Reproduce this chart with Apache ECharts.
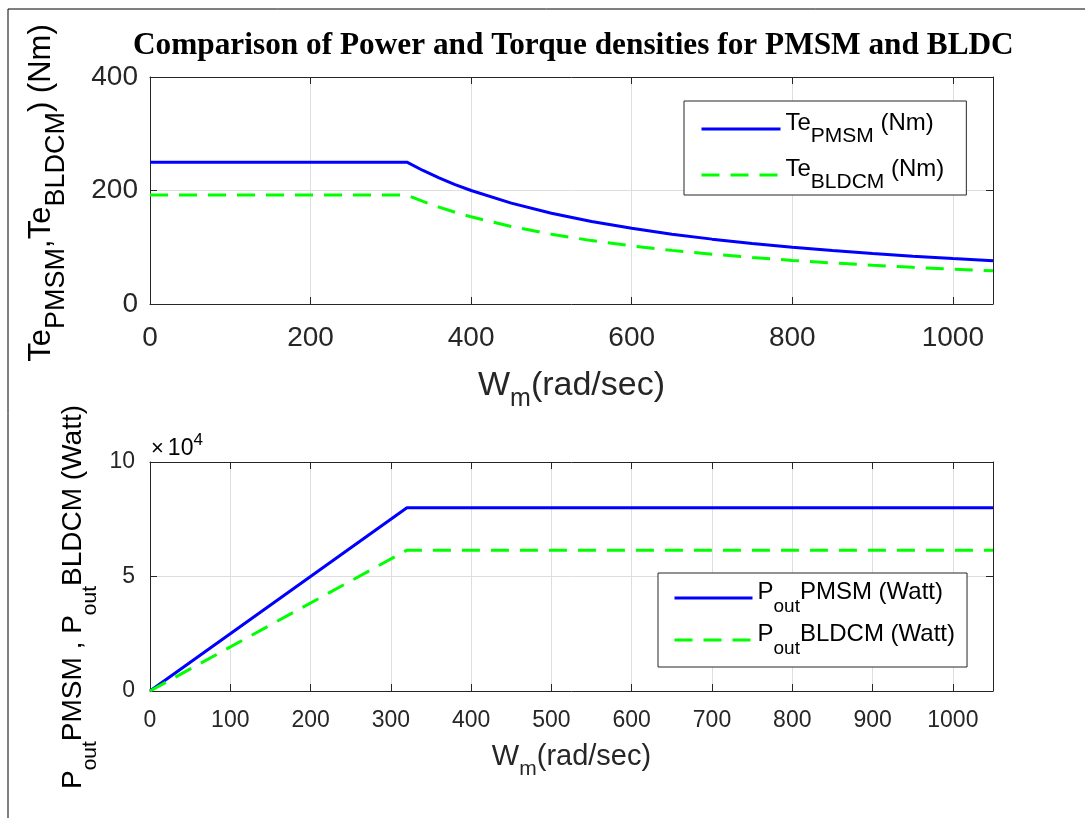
<!DOCTYPE html>
<html>
<head>
<meta charset="utf-8">
<title>Comparison of Power and Torque densities</title>
<script src="https://cdn.jsdelivr.net/npm/echarts@6/dist/echarts.min.js"></script>
<style>
  body { margin: 0; background: #fff; }
  #main { width: 1085px; height: 818px; }
</style>
</head>
<body>
<div id="main"></div>
<script>
// speed (rad/sec) and torque (Nm)
var speedTorque = [0, 100, 200, 300, 320, 340, 360, 380, 400, 450, 500, 550, 600, 650, 700, 750, 800, 850, 900, 950, 1000, 1050];
var tePmsm  = [250, 250, 250, 250, 250, 235.3, 222.2, 210.5, 200, 177.8, 160, 145.5, 133.3, 123.1, 114.3, 106.7, 100, 94.1, 88.9, 84.2, 80, 76.2];
var teBldcm = [192, 192, 192, 192, 192, 180.7, 170.7, 161.7, 153.6, 136.5, 122.9, 111.7, 102.4, 94.5, 87.8, 81.9, 76.8, 72.3, 68.3, 64.7, 61.4, 58.5];

// speed (rad/sec) and output power (Watt)
var speedPower = [0, 320, 1050];
var pPmsm  = [0, 80000, 80000];
var pBldcm = [0, 61500, 61500];

var axisColor = '#262626';
var gridColor = '#dedede';
var font = 'Arial, "Liberation Sans", sans-serif';

function pairs(xs, ys) {
  return xs.map(function (x, i) { return [x, ys[i]]; });
}

// MATLAB style box: labelled bottom/left axes, tick-only top/right axes
function boxAxes(g, xInt, yMax, yInt, fs, xMargin, yMargin, yFmt) {
  var line = { show: true, onZero: false, lineStyle: { color: axisColor, width: 1 } };
  var tick = { show: true, inside: true, length: 7, lineStyle: { color: axisColor } };
  var base = { type: 'value', gridIndex: g, axisLine: line, axisTick: tick };
  var xb = Object.assign({}, base, {
    min: 0, max: 1050, interval: xInt, position: 'bottom',
    axisLabel: { margin: xMargin, fontSize: fs, color: axisColor, fontFamily: font, showMaxLabel: false,
                 formatter: function (v) { return String(v); } },
    splitLine: { show: true, lineStyle: { color: gridColor } }
  });
  var xt = Object.assign({}, base, {
    min: 0, max: 1050, interval: xInt, position: 'top',
    axisLabel: { show: false }, splitLine: { show: false }
  });
  var yl = Object.assign({}, base, {
    min: 0, max: yMax, interval: yInt, position: 'left',
    axisLabel: { margin: yMargin, fontSize: fs, color: axisColor, fontFamily: font, formatter: yFmt },
    splitLine: { show: true, lineStyle: { color: gridColor } }
  });
  var yr = Object.assign({}, base, {
    min: 0, max: yMax, interval: yInt, position: 'right',
    axisLabel: { show: false }, splitLine: { show: false }
  });
  return { x: [xb, xt], y: [yl, yr] };
}

var torqueAx = boxAxes(0, 200, 400, 200, 28, 20, 12, function (v) { return String(v); });
var powerAx = boxAxes(1, 100, 100000, 50000, 23, 18, 15, function (v) { return String(v / 10000); });

// main text on top of the line, subscript at its bottom
function richSet(main, sub, lineH, col) {
  return {
    a: { fontSize: main, fontFamily: font, color: col || '#000', lineHeight: lineH, verticalAlign: 'top' },
    b: { fontSize: sub, fontFamily: font, color: col || '#000', lineHeight: sub, verticalAlign: 'bottom' }
  };
}

var legendNames = {
  te_pmsm: '{a|Te}{b|PMSM}{a| (Nm)}',
  te_bldcm: '{a|Te}{b|BLDCM}{a| (Nm)}',
  p_pmsm: '{a|P}{b|out}{a|PMSM (Watt)}',
  p_bldcm: '{a|P}{b|out}{a|BLDCM (Watt)}'
};

var blueLine = { color: '#0000ff', width: 3 };
var greenLine = { color: '#00ff00', width: 3, type: [18, 11] };

// axis names with subscripts
torqueAx.x[0].name = '{a|W}{b|m}{a|(rad/sec)}';
torqueAx.x[0].nameLocation = 'middle';
torqueAx.x[0].nameGap = 65;
torqueAx.x[0].nameTextStyle = { rich: richSet(34, 25, 43, axisColor) };
powerAx.x[0].name = '{a|W}{b|m}{a|(rad/sec)}';
powerAx.x[0].nameLocation = 'middle';
powerAx.x[0].nameGap = 51;
powerAx.x[0].nameTextStyle = { rich: richSet(29, 21, 38, axisColor) };

var option = {
  backgroundColor: '#fff',
  animation: false,
  title: {
    text: 'Comparison of Power and Torque densities for PMSM and BLDC',
    left: 128, top: 25,
    textStyle: { fontFamily: '"Liberation Serif", "Times New Roman", serif', fontWeight: 'bold', fontSize: 31.3, color: '#000' }
  },
  grid: [
    { left: 150, top: 77, width: 843, height: 227 },
    { left: 150, top: 462, width: 843, height: 229 }
  ],
  xAxis: [torqueAx.x[0], torqueAx.x[1], powerAx.x[0], powerAx.x[1]],
  yAxis: [torqueAx.y[0], torqueAx.y[1], powerAx.y[0], powerAx.y[1]],
  legend: [
    {
      data: ['te_pmsm', 'te_bldcm'], orient: 'vertical', left: 684, top: 101,
      itemWidth: 79, itemHeight: 14, itemGap: 10, padding: [10, 22, 2, 16],
      backgroundColor: '#fff', borderColor: axisColor, borderWidth: 1, borderRadius: 0,
      itemStyle: { opacity: 0 }, lineStyle: { width: 3 },
      formatter: function (n) { return legendNames[n]; },
      textStyle: { rich: richSet(24, 21, 36, '#000') }
    },
    {
      data: ['p_pmsm', 'p_bldcm'], orient: 'vertical', left: 658, top: 573,
      itemWidth: 78, itemHeight: 14, itemGap: 6, padding: [7, 12, 9, 15],
      backgroundColor: '#fff', borderColor: axisColor, borderWidth: 1, borderRadius: 0,
      itemStyle: { opacity: 0 }, lineStyle: { width: 3 },
      formatter: function (n) { return legendNames[n]; },
      textStyle: { rich: richSet(24, 19, 36, '#000') }
    }
  ],
  graphic: [
    { type: 'line', shape: { x1: 8, y1: 9, x2: 1085, y2: 9 }, style: { stroke: '#000', lineWidth: 1 } },
    { type: 'line', shape: { x1: 8, y1: 9, x2: 8, y2: 818 }, style: { stroke: '#000', lineWidth: 1 } },
    {
      type: 'text', x: 48, y: 193, rotation: Math.PI / 2,
      style: { text: '{a|Te}{b|PMSM}{a|,Te}{b|BLDCM}{a|) (Nm)}', align: 'center', verticalAlign: 'middle', rich: richSet(31, 27, 44, axisColor) }
    },
    {
      type: 'text', x: 80, y: 597, rotation: Math.PI / 2,
      style: { text: '{a|P}{b|out}{a|PMSM , P}{b|out}{a|BLDCM (Watt)}', align: 'center', verticalAlign: 'middle', rich: richSet(28, 21, 41, axisColor) }
    },
    {
      type: 'text', x: 151, y: 432,
      style: {
        text: '{x|\u00d7}{y|10}{s|4}',
        rich: {
          x: { fontSize: 22, fontFamily: font, color: axisColor, lineHeight: 28, verticalAlign: 'bottom', padding: [0, 4, 0, 0] },
          y: { fontSize: 23, fontFamily: font, color: axisColor, lineHeight: 28, verticalAlign: 'bottom' },
          s: { fontSize: 17, fontFamily: font, color: axisColor, lineHeight: 17, verticalAlign: 'top' }
        }
      }
    }
  ],
  series: [
    { name: 'te_pmsm', type: 'line', xAxisIndex: 0, yAxisIndex: 0, data: pairs(speedTorque, tePmsm), showSymbol: false, symbol: 'none', lineStyle: blueLine, itemStyle: { color: '#0000ff' }, z: 3 },
    { name: 'te_bldcm', type: 'line', xAxisIndex: 0, yAxisIndex: 0, data: pairs(speedTorque, teBldcm), showSymbol: false, symbol: 'none', lineStyle: greenLine, itemStyle: { color: '#00ff00' }, z: 3 },
    { name: 'p_pmsm', type: 'line', xAxisIndex: 2, yAxisIndex: 2, data: pairs(speedPower, pPmsm), showSymbol: false, symbol: 'none', lineStyle: blueLine, itemStyle: { color: '#0000ff' }, z: 3 },
    { name: 'p_bldcm', type: 'line', xAxisIndex: 2, yAxisIndex: 2, data: pairs(speedPower, pBldcm), showSymbol: false, symbol: 'none', lineStyle: greenLine, itemStyle: { color: '#00ff00' }, z: 3 }
  ]
};

var myChart = echarts.init(document.getElementById('main'));
myChart.setOption(option);
</script>
</body>
</html>
